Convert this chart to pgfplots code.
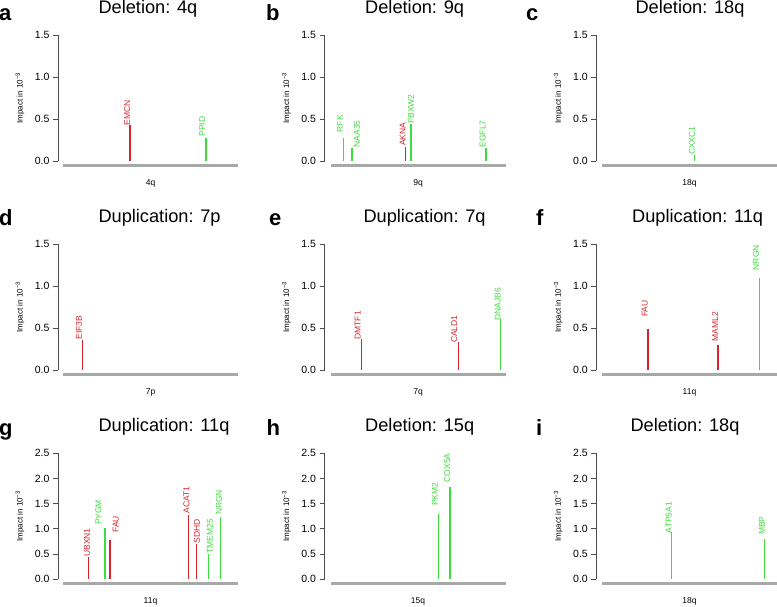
\documentclass[border=0pt]{standalone}
\usepackage{fontspec}
\setmainfont{Liberation Sans}
\usepackage{pgfplots}
\pgfplotsset{compat=1.18}

\definecolor{genered}{RGB}{215,35,45}
\definecolor{genegreen}{RGB}{60,220,60}
\definecolor{armgrey}{RGB}{168,168,168}

\tikzset{xlab/.style={anchor=center, yshift=-22pt, font=\fontsize{8.5}{10}\selectfont}}

\pgfplotsset{
  panel/.style={
    anchor=south west, clip=false,
    x=1.75pt, xmax=104, ymin=0,
    axis x line=none, axis y line=left,
    y axis line style={-, draw=black!70, line width=0.6pt},
    ytick style={draw=black!70, line width=0.6pt},
    tick align=outside, major tick length=5pt, xtick=\empty,
    scaled y ticks=false,
    y tick label style={font=\fontsize{10.5}{12}\selectfont,
      /pgf/number format/.cd, fixed, fixed zerofill, precision=1, assume math mode=true},
    ylabel={Impact in 10\textsuperscript{−3}},
    ylabel style={at={([xshift=-38pt]axis description cs:0,0.5)}, anchor=center,
      font=\fontsize{8}{10}\selectfont},
    every axis title shift=0pt,
    title style={anchor=base west, font=\fontsize{18.2}{22}\selectfont},
  },
  top/.style={y=84pt, ymax=1.5, ytick={0,0.5,1,1.5}},
  low/.style={y=50.3pt, ymax=2.5, ytick={0,0.5,1,1.5,2,2.5}},
  ttl/.style={title style={at={([xshift=#1, yshift=21.5pt]axis description cs:0,1)}}},
  arm/.style={armgrey, line width=3pt, mark=none, forget plot},
  gene/.style={ycomb, color=#1, line width=1.4pt, mark=none, forget plot},
  lab/.style={draw=none, mark=none, forget plot, point meta=explicit symbolic,
    nodes near coords,
    nodes near coords style={rotate=90, anchor=west, inner sep=0pt, text=#1,
      font=\fontsize{8.5}{10}\selectfont}},
}

\begin{document}
\begin{tikzpicture}
\useasboundingbox (0,0) rectangle (777pt,606pt);

% ---- row 1 ----
\begin{axis}[panel, top, at={(58pt,445pt)}, xmin=-2.86, ttl=37pt, title={Deletion: 4q}]
\addplot[arm] coordinates {(0,-0.055) (100,-0.055)};
\addplot[gene=genered] coordinates {(38.3,0.43)};
\addplot[gene=genegreen] coordinates {(81.7,0.27)};
\addplot[lab=genered] coordinates {(36.7,0.42) [EMCN]};
\addplot[lab=genegreen] coordinates {(79.6,0.29) [PPID]};
\node[xlab] at (axis cs:50,0) {4q};
\end{axis}

\begin{axis}[panel, top, at={(324.5pt,445pt)}, xmin=-3.43, ttl=37.2pt, title={Deletion: 9q}]
\addplot[arm] coordinates {(0,-0.055) (100,-0.055)};
\addplot[gene=genered] coordinates {(42.7,0.17)};
\addplot[gene=genegreen] coordinates {(7.3,0.27) (12.3,0.16) (46.0,0.44) (88.9,0.16)};
\addplot[lab=genered] coordinates {(41.3,0.18) [AKNA]};
\addplot[lab=genegreen] coordinates {(5.4,0.34) [RFK] (15.1,0.16) [NAA35] (46.0,0.44) [FBXW2] (87.0,0.16) [EGFL7]};
\node[xlab] at (axis cs:50,0) {9q};
\end{axis}

\begin{axis}[panel, top, at={(596.3pt,445pt)}, xmin=-3.26, ttl=35.7pt, title={Deletion: 18q}]
\addplot[arm] coordinates {(0,-0.055) (100,-0.055)};
\addplot[gene=genegreen] coordinates {(53.0,0.07)};
\addplot[lab=genegreen] coordinates {(51.4,0.07) [CXXC1]};
\node[xlab] at (axis cs:50,0) {18q};
\end{axis}

% ---- row 2 ----
\begin{axis}[panel, top, at={(58pt,236pt)}, xmin=-2.86, ttl=37pt, title={Duplication: 7p}]
\addplot[arm] coordinates {(0,-0.055) (100,-0.055)};
\addplot[gene=genered] coordinates {(11.0,0.36)};
\addplot[lab=genered] coordinates {(9.1,0.363) [EIF3B]};
\node[xlab] at (axis cs:50,0) {7p};
\end{axis}

\begin{axis}[panel, top, at={(324.5pt,236pt)}, xmin=-3.43, ttl=35.5pt, title={Duplication: 7q}]
\addplot[arm] coordinates {(0,-0.055) (100,-0.055)};
\addplot[gene=genered] coordinates {(17.8,0.375) (73.0,0.335)};
\addplot[gene=genegreen] coordinates {(97.3,0.61)};
\addplot[lab=genered] coordinates {(15.5,0.36) [DMTF1] (70.7,0.32) [CALD1]};
\addplot[lab=genegreen] coordinates {(95.5,0.585) [DNAJB6]};
\node[xlab] at (axis cs:50,0) {7q};
\end{axis}

\begin{axis}[panel, top, at={(596.3pt,236pt)}, xmin=-3.26, ttl=32.4pt, title={Duplication: 11q}]
\addplot[arm] coordinates {(0,-0.055) (100,-0.055)};
\addplot[gene=genered] coordinates {(26.3,0.49) (66.3,0.30)};
\addplot[gene=genegreen] coordinates {(89.9,1.10)};
\addplot[lab=genered] coordinates {(24.4,0.63) [FAU] (64.7,0.34) [MAML2]};
\addplot[lab=genegreen] coordinates {(88.0,1.185) [NRGN]};
\node[xlab] at (axis cs:50,0) {11q};
\end{axis}

% ---- row 3 ----
\begin{axis}[panel, low, at={(58pt,27pt)}, xmin=-2.86, ttl=37pt, title={Duplication: 11q}]
\addplot[arm] coordinates {(0,-0.087) (100,-0.087)};
\addplot[gene=genered] coordinates {(14.7,0.44) (26.9,0.78) (71.6,1.27) (76.4,0.70)};
\addplot[gene=genegreen] coordinates {(24.0,1.02) (83.0,0.50) (90.1,1.24)};
\addplot[lab=genered] coordinates {(13.7,0.44) [UBXN1] (30.1,0.92) [FAU] (70.5,1.305) [ACAT1] (76.6,0.70) [SDHD]};
\addplot[lab=genegreen] coordinates {(20.2,1.07) [PYGM] (84.0,0.50) [TMEM25] (89.1,1.27) [NRGN]};
\node[xlab] at (axis cs:50,0) {11q};
\end{axis}

\begin{axis}[panel, low, at={(324.5pt,27pt)}, xmin=-3.43, ttl=37.2pt, title={Deletion: 15q}]
\addplot[arm] coordinates {(0,-0.087) (100,-0.087)};
\addplot[gene=genegreen] coordinates {(61.6,1.29) (68.3,1.82)};
\addplot[lab=genegreen] coordinates {(59.7,1.45) [PKM2] (66.7,1.92) [COX5A]};
\node[xlab] at (axis cs:50,0) {15q};
\end{axis}

\begin{axis}[panel, low, at={(596.3pt,27pt)}, xmin=-3.26, ttl=30.7pt, title={Deletion: 18q}]
\addplot[arm] coordinates {(0,-0.087) (100,-0.087)};
\addplot[gene=genegreen] coordinates {(39.6,0.94) (92.7,0.79)};
\addplot[lab=genegreen] coordinates {(38.1,0.91) [ATP5A1] (91.4,0.875) [MBP]};
\node[xlab] at (axis cs:50,0) {18q};
\end{axis}

% panel letters
\begin{scope}[every node/.style={anchor=base west, inner sep=0pt, font=\bfseries\fontsize{22}{26}\selectfont}]
\node at (-1pt,585.3pt) {a};
\node at (266pt,585.3pt) {b};
\node at (526pt,585.3pt) {c};
\node at (-1pt,380.5pt) {d};
\node at (269pt,380.5pt) {e};
\node at (536pt,380.5pt) {f};
\node at (-1pt,171pt) {g};
\node at (266.3pt,171pt) {h};
\node at (536pt,171pt) {i};
\end{scope}
\end{tikzpicture}
\end{document}
